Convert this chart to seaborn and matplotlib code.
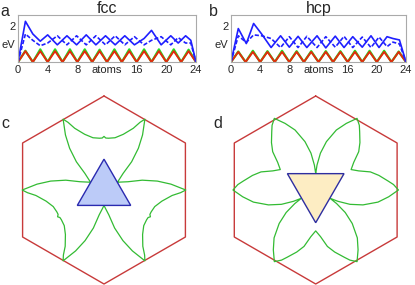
import numpy as np
import pandas as pd
import seaborn as sns
import matplotlib
matplotlib.use("Agg")
import matplotlib.pyplot as plt

# ---- top panels: energies vs number of atoms ----
atoms = list(range(25))
red_fcc = [0, .6, 0, .6, 0, .6, 0, .6, 0, .6, 0, .6, 0, .6, 0, .6, 0, .6, 0, .6, 0, .6, 0, .6, 0]
green_fcc = [0, .62, 0, .7, 0, .7, 0, .7, 0, .7, 0, .68, 0, .7, 0, .7, 0, .7, 0, .7, 0, .7, 0, .68, 0]
red_hcp = [0, .56, 0, .56, 0, .56, 0, .56, 0, .56, 0, .56, 0, .56, 0, .56, 0, .56, 0, .56, 0, .56, 0, .56, 0]
green_hcp = [0, .58, 0, .62, 0, .6, 0, .62, 0, .6, 0, .6, 0, .6, 0, .6, 0, .62, 0, .62, 0, .62, 0, .58, 0]

fcc_x = [0, 1, 2, 3, 4, 5.3, 6.6, 7.9, 9.2, 10.5, 11.8, 13.1, 14.4, 15.7, 17, 18, 19.3, 20.6, 21.6, 22.6, 23.3, 24]
fcc_solid = [0, 2.25, 1.55, 1.15, 1.5, 0.95, 1.45, 0.95, 1.5, 0.95, 1.45, 0.95, 1.45, 0.95, 1.3, 1.75, 0.95, 1.45, 1.05, 1.45, 1.2, 0]
fcc_dash = [0, 1.55, 1.2, 0.9, 1.05, 1.45, 0.95, 1.45, 0.95, 1.45, 0.95, 1.45, 0.95, 1.4, 0.95, 1.2, 1.4, 0.95, 1.35, 1.05, 1.05, 0]

hcp_x = [0, 1, 2.1, 3.1, 4.2, 5.5, 6.8, 8, 9.2, 10.4, 11.8, 13, 14.3, 15.5, 16.7, 18, 19.2, 20.3, 21.4, 22.2, 23.1, 24]
hcp_solid = [0, 1.85, 1.02, 2.13, 1.55, 0.8, 1.45, 0.82, 1.42, 0.8, 1.45, 0.78, 1.43, 0.8, 1.4, 0.82, 1.45, 0.8, 1.4, 1.3, 1.22, 0]
hcp_dash = [0, 1.45, 1.08, 1.5, 1.45, 1.3, 0.8, 1.4, 0.8, 1.42, 0.8, 1.4, 0.82, 1.42, 0.8, 1.38, 0.8, 1.38, 0.85, 1.1, 1.0, 0]

x_ticks = [0, 4, 8, 12, 16, 20, 24]
x_labels = ["0", "4", "8", "atoms", "16", "20", "24"]

# ---- bottom panels: polar outline of one 60 deg sector (from deep to shallow minimum) ----
c_phi = [0, 5, 11, 15.6, 20.5, 25, 30, 32, 34.6, 40.9, 48.1, 55, 58, 60]
c_r = [0.165, 0.2, 0.27, 0.42, 0.575, 0.715, 0.87, 0.815, 0.727, 0.627, 0.568, 0.553, 0.553, 0.57]
d_phi = [0, 3, 7.3, 12.5, 19, 24.7, 30, 34, 37, 43, 48.3, 54, 60]
d_r = [0.175, 0.265, 0.395, 0.527, 0.675, 0.78, 0.88, 0.83, 0.777, 0.69, 0.613, 0.5, 0.435]

hex_deg = [90, 150, 210, 270, 330, 30, 90]
tri_c_deg = [90, 210, 330, 90]
tri_d_deg = [270, 30, 150, 270]
tri_c_r = 0.328
tri_d_r = 0.348

sns.set_theme(style="white")
plt.rcParams["font.family"] = ["Liberation Sans", "DejaVu Sans"]

fig = plt.figure(figsize=(4.15, 2.85), dpi=100)
W, H = 415, 285


def px_axes(x0, y0, x1, y1):
    return fig.add_axes([x0 / W, 1 - y1 / H, (x1 - x0) / W, (y1 - y0) / H])


blue = "#1f1fff"
red = "#e32a0c"
green = "#22dd22"


def energy_panel(ax, red_y, green_y, xb, solid, dash, title):
    df = pd.DataFrame({"atoms": atoms, "red": red_y, "green": green_y})
    sns.lineplot(data=df, x="atoms", y="green", ax=ax, color=green, lw=1.6, estimator=None)
    sns.lineplot(data=df, x="atoms", y="red", ax=ax, color=red, lw=1.4, estimator=None)
    sns.lineplot(x=xb, y=dash, ax=ax, color=blue, lw=1.2, estimator=None, linestyle=(0, (2.5, 1.2)))
    sns.lineplot(x=xb, y=solid, ax=ax, color=blue, lw=1.2, estimator=None)
    ax.set_xlim(0, 24)
    ax.set_ylim(0, 2.6)
    ax.set_xticks(x_ticks)
    ax.set_xticklabels(x_labels)
    ax.set_yticks([1, 2])
    ax.set_yticklabels(["eV", "2"])
    ax.set_xlabel("")
    ax.set_ylabel("")
    ax.tick_params(direction="in", length=2, color="#999999", labelsize=8, pad=2)
    for s in ax.spines.values():
        s.set_color("#aaaaaa")
        s.set_linewidth(0.8)
    ax.set_title(title, fontsize=11.5, pad=1.5)


ax_a = px_axes(18, 15, 196, 62)
energy_panel(ax_a, red_fcc, green_fcc, fcc_x, fcc_solid, fcc_dash, "fcc")
ax_b = px_axes(231, 15, 406, 62)
energy_panel(ax_b, red_hcp, green_hcp, hcp_x, hcp_solid, hcp_dash, "hcp")


def full_outline(phi, r, offset):
    # mirror the sector about its shallow minimum, then repeat it three times
    phi = np.asarray(phi, float)
    r = np.asarray(r, float)
    half_phi = np.concatenate([phi, 120 - phi[::-1][1:]])
    half_r = np.concatenate([r, r[::-1][1:]])
    ang = np.concatenate([half_phi + k * 120 for k in range(3)] + [half_phi[:1]]) + offset
    rr = np.concatenate([half_r] * 3 + [half_r[:1]])
    t = np.deg2rad(ang)
    return rr * np.cos(t), rr * np.sin(t)


def shape_panel(ax, phi, r, offset, tri_deg, tri_r, fill, edge):
    hx = np.cos(np.deg2rad(hex_deg))
    hy = np.sin(np.deg2rad(hex_deg))
    sns.lineplot(x=hx, y=hy, ax=ax, sort=False, estimator=None, color="#c83a3a", lw=1.0)
    gx, gy = full_outline(phi, r, offset)
    sns.lineplot(x=gx, y=gy, ax=ax, sort=False, estimator=None, color="#33bb33", lw=0.9)
    tx = tri_r * np.cos(np.deg2rad(tri_deg))
    ty = tri_r * np.sin(np.deg2rad(tri_deg))
    ax.fill(tx, ty, facecolor=fill, edgecolor=edge, lw=1.0, zorder=5)
    for ln in ax.lines:
        ln.set_clip_on(False)
    ax.set_aspect("equal")
    ax.axis("off")


ax_c = px_axes(0, 85, 208, 285)
ax_c.set_xlim(-104 / 94, 104 / 94)
ax_c.set_ylim(-95 / 94, 105 / 94)
shape_panel(ax_c, c_phi, c_r, 30, tri_c_deg, tri_c_r, "#bccbf8", "#2a2ab0")

ax_d = px_axes(208, 85, 415, 285)
ax_d.set_xlim(-107.7 / 94, 99.3 / 94)
ax_d.set_ylim(-95 / 94, 105 / 94)
shape_panel(ax_d, d_phi, d_r, 90, tri_d_deg, tri_d_r, "#fdedc3", "#2e2ea0")

for lab, x, y in [("a", 5, 11), ("b", 213, 11), ("c", 5, 124), ("d", 218, 124)]:
    fig.text(x / W, 1 - y / H, lab, fontsize=11.5, ha="center", va="center")

fig.savefig("out.png", dpi=100)
